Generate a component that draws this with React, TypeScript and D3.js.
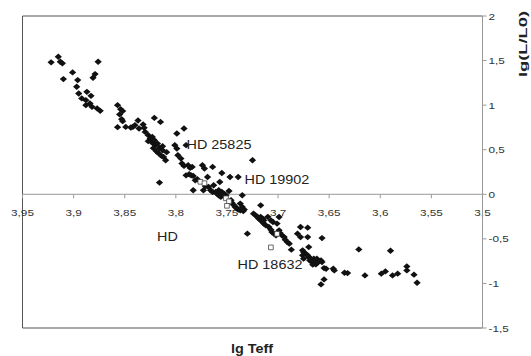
import React, { useMemo } from 'react';
import * as d3 from 'd3';

// lg Teff / lg(L/L0) for the filled diamonds
const lgTeff = [
  3.922, 3.915, 3.913, 3.911, 3.910, 3.901, 3.896, 3.897, 3.895, 3.892,
  3.887, 3.883, 3.888, 3.888, 3.884, 3.882, 3.877, 3.874, 3.881, 3.879,
  3.876, 3.857, 3.854, 3.852, 3.855, 3.853, 3.852, 3.857, 3.849, 3.844,
  3.842, 3.840, 3.837, 3.836, 3.832, 3.831, 3.830, 3.827, 3.825, 3.823,
  3.824, 3.822, 3.821, 3.820, 3.821, 3.815, 3.818, 3.816, 3.813, 3.812,
  3.814, 3.799, 3.792, 3.801, 3.799, 3.798, 3.795, 3.794, 3.792, 3.788,
  3.786, 3.787, 3.783, 3.779, 3.816, 3.790, 3.827, 3.822, 3.819, 3.817,
  3.810, 3.784, 3.790, 3.785, 3.781, 3.774, 3.772, 3.764, 3.769, 3.783,
  3.773, 3.771, 3.768, 3.766, 3.764, 3.763, 3.761, 3.760, 3.758, 3.756,
  3.755, 3.757, 3.758, 3.755, 3.753, 3.751, 3.747, 3.739, 3.746, 3.745,
  3.743, 3.742, 3.740, 3.737, 3.735, 3.733, 3.735, 3.725, 3.717, 3.739,
  3.737, 3.734, 3.748, 3.724, 3.722, 3.720, 3.719, 3.717, 3.715, 3.714,
  3.712, 3.717, 3.715, 3.714, 3.705, 3.699, 3.701, 3.709, 3.707, 3.706,
  3.704, 3.702, 3.699, 3.698, 3.696, 3.694, 3.693, 3.691, 3.689, 3.730,
  3.681, 3.671, 3.678, 3.678, 3.671, 3.687, 3.676, 3.675, 3.673, 3.671,
  3.670, 3.669, 3.667, 3.665, 3.663, 3.710, 3.707, 3.657, 3.670, 3.676,
  3.675, 3.668, 3.665, 3.663, 3.662, 3.660, 3.658, 3.657, 3.666, 3.662,
  3.655, 3.653, 3.646, 3.645, 3.655, 3.658, 3.635, 3.632, 3.621, 3.615,
  3.599, 3.595, 3.590, 3.588, 3.583, 3.574, 3.574, 3.567, 3.564, 3.813,
  3.809,
];

const lgL = [
  1.480, 1.543, 1.487, 1.469, 1.292, 1.367, 1.281, 1.206, 1.131, 1.075,
  1.149, 1.104, 1.056, 1.000, 1.019, 0.981, 0.963, 0.936, 1.307, 1.348,
  1.487, 1.000, 0.955, 0.933, 0.896, 0.843, 0.820, 0.753, 0.756, 0.749,
  0.756, 0.775, 0.828, 0.738, 0.783, 0.745, 0.700, 0.663, 0.626, 0.644,
  0.588, 0.570, 0.607, 0.551, 0.857, 0.812, 0.570, 0.520, 0.494, 0.419,
  0.430, 0.682, 0.738, 0.551, 0.513, 0.438, 0.401, 0.345, 0.318, 0.326,
  0.296, 0.225, 0.206, 0.169, 0.131, 0.551, 0.596, 0.517, 0.483, 0.461,
  0.382, 0.307, 0.213, 0.213, 0.157, 0.326, 0.289, 0.307, 0.194, 0.045,
  0.045, 0.090, 0.082, 0.045, 0.026, 0.101, 0.026, 0.008, -0.011, -0.030,
  0.239, 0.138, 0.045, 0.026, 0.008, -0.011, 0.194, 0.194, -0.067, -0.098,
  -0.124, -0.143, -0.161, -0.104, -0.143, -0.172, -0.011, 0.382, -0.124, -0.172,
  -0.180, -0.188, 0.037, -0.217, -0.236, -0.255, -0.273, -0.292, -0.311, -0.329,
  -0.348, -0.255, -0.273, -0.292, -0.311, -0.255, -0.329, -0.367, -0.397, -0.424,
  -0.442, -0.461, -0.404, -0.435, -0.461, -0.480, -0.509, -0.536, -0.554, -0.442,
  -0.442, -0.374, -0.367, -0.480, -0.480, -0.621, -0.629, -0.648, -0.666, -0.685,
  -0.704, -0.742, -0.761, -0.722, -0.787, -0.253, -0.292, -0.491, -0.592, -0.685,
  -0.722, -0.722, -0.761, -0.742, -0.722, -0.753, -0.742, -0.761, -0.790, -0.767,
  -0.828, -0.835, -0.835, -0.854, -0.955, -1.011, -0.880, -0.884, -0.618, -0.910,
  -0.891, -0.865, -0.633, -0.910, -0.891, -0.809, -0.854, -0.902, -0.992, 0.539,
  0.472,
];

// open squares
const openTeff = [3.776, 3.772, 3.751, 3.748, 3.750, 3.701, 3.707];
const openL = [0.140, 0.124, -0.045, -0.079, -0.129, -0.444, -0.596];

const xTicks = [3.95, 3.9, 3.85, 3.8, 3.75, 3.7, 3.65, 3.6, 3.55, 3.5];
const yTicks = [2, 1.5, 1, 0.5, 0, -0.5, -1, -1.5];

const labelText = ['HD 25825', 'HD 19902', 'HD', 'HD 18632'];
const labelTeff = [3.7895, 3.7328, 3.8184, 3.7396];
const labelL = [0.506, 0.112, -0.522, -0.837];

const W = 531;
const H = 356;
const FONT = '"Liberation Sans", Arial, sans-serif';
const fmt = (v: number) => String(v).replace('.', ',');

const App: React.FC = () => {
  const x = useMemo(() => d3.scaleLinear().domain([3.95, 3.5]).range([22.5, 482.5]), []);
  const y = useMemo(() => d3.scaleLinear().domain([-1.5, 2]).range([328, 16]), []);

  const diamond = d3.symbol().type(d3.symbolSquare).size(20)() || '';
  const square = d3.symbol().type(d3.symbolSquare).size(22)() || '';

  const [x0, x1] = x.range();
  const [yBottom, yTop] = y.range();

  return (
    <div style={{ position: 'absolute', left: 0, top: 0 }}>
      <svg width={W} height={H} style={{ display: 'block', background: '#fff' }}>
        {/* plot frame */}
        <line x1={x0} x2={x1} y1={yTop} y2={yTop} stroke="#555" />
        <line x1={x0} x2={x1} y1={yBottom} y2={yBottom} stroke="#555" />
        <line x1={x0} x2={x0} y1={yTop} y2={yBottom} stroke="#555" />

        {/* x axis at lgL = 0 */}
        <line x1={x0} x2={x1} y1={y(0)} y2={y(0)} stroke="#999" />
        {xTicks.map(t => (
          <g key={`xt-${t}`}>
            <line x1={x(t)} x2={x(t)} y1={y(0)} y2={y(0) + 4} stroke="#999" />
            <text
              transform={`translate(${x(t)}, ${y(0) + 22}) scale(1.2, 1)`}
              textAnchor="middle"
              fontFamily={FONT}
              fontSize={9.8}
              fill="#333"
            >
              {fmt(t)}
            </text>
          </g>
        ))}

        {/* y axis on the right */}
        <line x1={x1} x2={x1} y1={yTop} y2={yBottom} stroke="#999" />
        {yTicks.map(t => (
          <g key={`yt-${t}`}>
            <line x1={x1} x2={x1 + 4} y1={y(t)} y2={y(t)} stroke="#999" />
            <text
              transform={`translate(${x1 + 6}, ${y(t) + 3.5}) scale(1.2, 1)`}
              fontFamily={FONT}
              fontSize={9.8}
              fill="#333"
            >
              {fmt(t)}
            </text>
          </g>
        ))}

        {/* filled diamonds */}
        {lgTeff.map((t, i) => (
          <path
            key={`d-${i}`}
            d={diamond}
            transform={`translate(${x(t)}, ${y(lgL[i])}) scale(1.15, 1) rotate(45)`}
            fill="#111"
          />
        ))}

        {/* open squares */}
        {openTeff.map((t, i) => (
          <path
            key={`s-${i}`}
            d={square}
            transform={`translate(${x(t)}, ${y(openL[i])})`}
            fill="#fff"
            stroke="#444"
            strokeWidth={0.8}
          />
        ))}

        {/* star labels */}
        {labelText.map((s, i) => (
          <text
            key={`l-${i}`}
            transform={`translate(${x(labelTeff[i])}, ${y(labelL[i])}) scale(1.2, 1)`}
            fontFamily={FONT}
            fontSize={12}
            fill="#222"
          >
            {s}
          </text>
        ))}

        {/* axis titles */}
        <text
          transform={`translate(252, 353) scale(1.2, 1)`}
          textAnchor="middle"
          fontFamily={FONT}
          fontSize={12}
          fontWeight="bold"
          fill="#222"
        >
          lg Teff
        </text>
        <text
          transform="translate(527, 44) rotate(-90)"
          textAnchor="middle"
          fontFamily={FONT}
          fontSize={11}
          fontWeight="bold"
          fill="#222"
          textLength={66}
          lengthAdjust="spacingAndGlyphs"
        >
          lg(L/L0)
        </text>
      </svg>
    </div>
  );
};

export default App;
